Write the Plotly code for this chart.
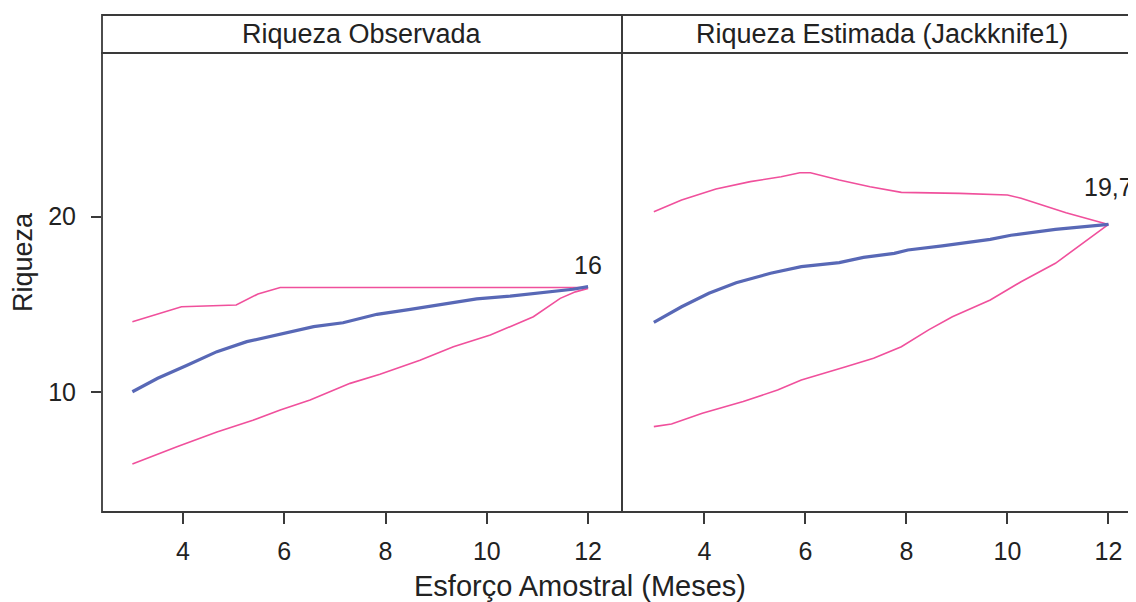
import plotly.graph_objects as go

# ---------------- data ----------------
panel_titles = ["Riqueza Observada", "Riqueza Estimada (Jackknife1)"]
x_ticks = [4, 6, 8, 10, 12]
y_ticks = [10, 20]

# Left panel: observed richness
obs_mean_x = [3, 3.5, 4.07, 4.67, 5.26, 5.92, 6.58, 7.16, 7.83, 8.49, 9.14, 9.8, 10.46, 11.12, 11.7, 12]
obs_mean_y = [10, 10.77, 11.5, 12.29, 12.86, 13.3, 13.72, 13.94, 14.42, 14.7, 15.0, 15.3, 15.46, 15.65, 15.85, 16]
obs_upper_x = [3, 3.97, 5.05, 5.26, 5.48, 5.92, 12]
obs_upper_y = [14, 14.85, 14.95, 15.24, 15.58, 15.95, 15.95]
obs_lower_x = [3, 3.88, 4.67, 5.38, 5.92, 6.51, 7.3, 7.89, 8.68, 9.34, 10.07, 10.92, 11.45, 11.75, 12]
obs_lower_y = [5.88, 6.87, 7.7, 8.37, 8.96, 9.53, 10.48, 11.0, 11.8, 12.57, 13.24, 14.28, 15.33, 15.7, 15.9]
obs_label = "16"
obs_label_y = 17.25

# Right panel: estimated richness (Jackknife1)
est_mean_x = [3, 3.55, 4.09, 4.63, 5.31, 5.92, 6.67, 7.15, 7.76, 8.03, 8.71, 9.66, 10.07, 10.95, 12]
est_mean_y = [13.96, 14.85, 15.62, 16.22, 16.76, 17.14, 17.37, 17.67, 17.9, 18.09, 18.32, 18.7, 18.93, 19.27, 19.55]
est_upper_x = [3, 3.55, 4.23, 4.91, 5.52, 5.89, 6.1, 6.67, 7.28, 7.9, 9.05, 10.0, 10.27, 10.68, 11.16, 12]
est_upper_y = [20.27, 20.94, 21.57, 21.99, 22.27, 22.5, 22.5, 22.08, 21.7, 21.38, 21.32, 21.23, 21.04, 20.66, 20.22, 19.55]
est_lower_x = [3, 3.35, 3.96, 4.77, 5.45, 5.92, 6.8, 7.35, 7.9, 8.44, 8.91, 9.66, 10.27, 10.95, 12]
est_lower_y = [8.01, 8.16, 8.77, 9.44, 10.1, 10.67, 11.43, 11.91, 12.57, 13.53, 14.28, 15.24, 16.28, 17.33, 19.55]
est_label = "19,7"
est_label_y = 21.7

# ---------------- styling ----------------
BLUE = "#5868b6"
PINK = "#f0509c"
FRAME = "#3a3a3a"
TXT = "#222222"
FONT = "Liberation Sans, Arial, sans-serif"
FS_TICK = 25
FS_STRIP = 27
FS_XT = 29
FS_YT = 27

# page has an 8px body margin: figure occupies page x 8..1136, y 8..602
W, H = 1128, 594
L, R, T, B = 94, 0, 7, 90
plot_w = W - L - R
plot_h = H - T - B
strip_h = 38
ytop = (plot_h - strip_h) / plot_h
split = 520 / plot_w
right_edge = 1040 / plot_w  # right panel border lies just outside the window

fig = go.Figure()

def add_line(x, y, color, width, xa):
    fig.add_trace(go.Scatter(x=x, y=y, mode="lines", xaxis=xa, yaxis="y",
                             line=dict(color=color, width=width), showlegend=False,
                             hoverinfo="skip"))

add_line(obs_upper_x, obs_upper_y, PINK, 1.6, "x")
add_line(obs_lower_x, obs_lower_y, PINK, 1.6, "x")
add_line(obs_mean_x, obs_mean_y, BLUE, 3.2, "x")
add_line(est_upper_x, est_upper_y, PINK, 1.6, "x2")
add_line(est_lower_x, est_lower_y, PINK, 1.6, "x2")
add_line(est_mean_x, est_mean_y, BLUE, 3.2, "x2")

axis_common = dict(showgrid=False, zeroline=False, showline=False, ticks="outside",
                   ticklen=11, tickwidth=1.5, tickcolor=FRAME, ticklabelstandoff=6,
                   tickfont=dict(family=FONT, size=FS_TICK, color=TXT), tickvals=x_ticks)

fig.update_layout(
    width=W, height=H,
    margin=dict(l=L, r=R, t=T, b=B, pad=0),
    paper_bgcolor="white", plot_bgcolor="white",
    showlegend=False,
    xaxis=dict(domain=[0, split], range=[2.40, 12.67], anchor="y", **axis_common),
    xaxis2=dict(domain=[split, 1], range=[2.37, 12.545], anchor="y", **axis_common),
    yaxis=dict(domain=[0, ytop], range=[3.14, 29.33], showgrid=False, zeroline=False,
               showline=False, ticks="outside", ticklen=10, tickwidth=1.5, tickcolor=FRAME,
               ticklabelstandoff=10,
               tickvals=y_ticks, tickfont=dict(family=FONT, size=FS_TICK, color=TXT)),
)

def px_x(page_x):
    return (page_x - 8 - L) / plot_w

def px_y(page_y):
    return 1 - (page_y - 8 - T) / plot_h

# axis titles
fig.add_annotation(text="Esforço Amostral (Meses)", xref="paper", yref="paper",
                   x=px_x(580), y=px_y(586), showarrow=False,
                   font=dict(family=FONT, size=FS_XT, color=TXT), xanchor="center", yanchor="middle")
fig.add_annotation(text="Riqueza", xref="paper", yref="paper", textangle=-90,
                   x=px_x(23), y=px_y(262), showarrow=False,
                   font=dict(family=FONT, size=FS_YT, color=TXT), xanchor="center", yanchor="middle")

# strip labels
fig.add_annotation(text=panel_titles[0], xref="paper", yref="paper", x=split / 2,
                   y=(1 + ytop) / 2, showarrow=False, xanchor="center", yanchor="middle",
                   font=dict(family=FONT, size=FS_STRIP, color=TXT))
fig.add_annotation(text=panel_titles[1], xref="paper", yref="paper", x=(split + right_edge) / 2,
                   y=(1 + ytop) / 2, showarrow=False, xanchor="center", yanchor="middle",
                   font=dict(family=FONT, size=FS_STRIP, color=TXT))

# end value labels
fig.add_annotation(text=obs_label, x=12, y=obs_label_y, xref="x", yref="y", showarrow=False,
                   font=dict(family=FONT, size=FS_TICK, color=TXT))
fig.add_annotation(text=est_label, x=12, y=est_label_y, xref="x2", yref="y", showarrow=False,
                   font=dict(family=FONT, size=FS_TICK, color=TXT))

# frames
lw = 1.8
frame_line = dict(color=FRAME, width=lw)
for x0, x1 in [(0, split), (split, right_edge)]:
    fig.add_shape(type="rect", xref="paper", yref="paper", x0=x0, x1=x1, y0=0, y1=ytop,
                  line=frame_line, layer="above")
    fig.add_shape(type="rect", xref="paper", yref="paper", x0=x0, x1=x1, y0=ytop, y1=1,
                  line=frame_line, layer="above")

fig.write_html("out.html")
